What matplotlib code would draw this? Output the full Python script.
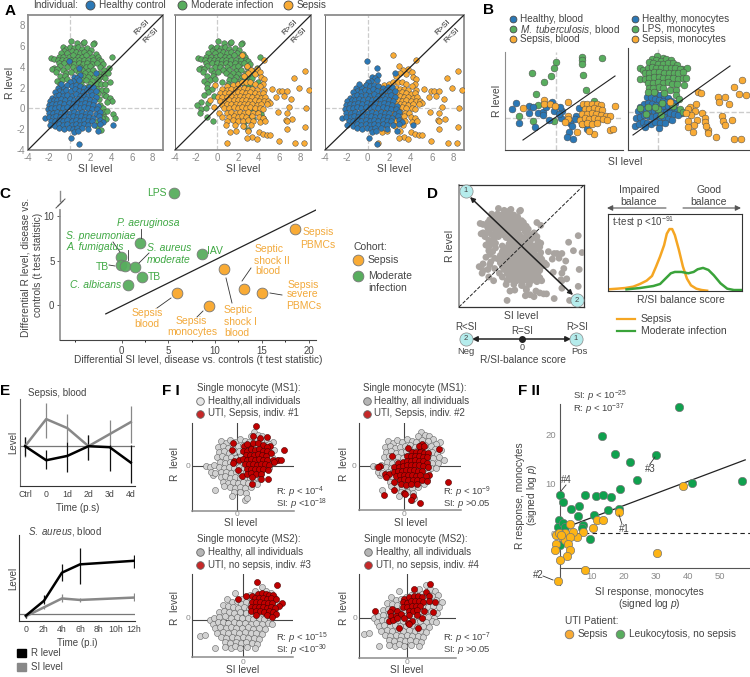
import numpy as np
import matplotlib
matplotlib.use("Agg")
import matplotlib.pyplot as plt

plt.rcParams['font.family'] = ['Liberation Sans', 'DejaVu Sans']
plt.rcParams['mathtext.fontset'] = 'custom'
plt.rcParams['mathtext.rm'] = 'Liberation Sans'
plt.rcParams['mathtext.it'] = 'Liberation Sans:italic'
plt.rcParams['mathtext.default'] = 'regular'

W, H = 750, 677
BLUE = '#2b78b6'
GREEN = '#58ad5e'
ORANGE = '#f9ab35'
TXT = '#444444'
TICK = '#8a8a8a'
SPINE = '#8c8c8c'
EDGE = '#4a4a4a'

# ---------------- data, panel A (also the cloud of panel D) ---------------- #
healthy = [(-0.1,4.6),(0.9,3.9),(2.5,3.4),(1.0,3.2),(0.4,3.0),(0.7,2.9),(0.3,2.6),(0.9,2.7),(0.0,2.5),
 (-0.6,2.1),(-0.2,2.3),(0.2,2.2),(0.6,2.3),(1.0,2.2),(1.4,2.0),(1.9,2.1),(2.3,2.1),(-1.1,2.0),(-0.8,2.4),
 (-1.0,1.7),(-0.6,1.6),(-0.3,1.8),(0.1,1.7),(0.5,1.9),(0.9,1.7),(1.3,1.6),(1.7,1.8),(2.1,1.6),(2.5,1.7),(-1.4,1.6),
 (-1.7,1.0),(-1.3,1.2),(-1.0,1.3),(-0.6,1.2),(-0.2,1.3),(0.2,1.2),(0.6,1.4),(1.0,1.2),(1.4,1.3),(1.8,1.2),(2.2,1.3),(2.5,1.1),
 (-1.9,0.7),(-1.5,0.8),(-1.2,0.8),(-0.8,0.9),(-0.4,0.8),(0.0,0.9),(0.4,0.8),(0.8,0.9),(1.2,0.8),(1.6,0.9),(2.0,0.8),(2.4,0.7),
 (-2.0,0.3),(-1.7,0.4),(-1.3,0.4),(-0.9,0.5),(-0.5,0.4),(-0.1,0.5),(0.3,0.4),(0.7,0.5),(1.1,0.4),(1.5,0.5),(1.9,0.4),(2.3,0.3),(2.7,0.2),
 (-2.1,-0.1),(-1.8,0.0),(-1.4,0.0),(-1.0,0.1),(-0.6,0.0),(-0.2,0.1),(0.2,0.0),(0.6,0.1),(1.0,0.0),(1.4,0.1),(1.8,0.0),(2.2,-0.1),(2.6,-0.1),
 (-2.0,-0.4),(-1.6,-0.4),(-1.2,-0.3),(-0.8,-0.4),(-0.4,-0.3),(0.0,-0.4),(0.4,-0.3),(0.8,-0.4),(1.2,-0.3),(1.6,-0.4),(2.0,-0.4),(2.5,-0.5),(2.9,-0.3),
 (-2.4,-0.9),(-2.0,-0.8),(-1.6,-0.8),(-1.3,-0.7),(-0.9,-0.8),(-0.5,-0.7),(-0.1,-0.8),(0.3,-0.7),(0.7,-0.8),(1.1,-0.7),(1.5,-0.8),(1.9,-0.8),(2.3,-0.9),(2.8,-0.7),
 (-1.8,-1.2),(-1.4,-1.2),(-1.0,-1.1),(-0.6,-1.2),(-0.2,-1.1),(0.2,-1.2),(0.6,-1.1),(1.0,-1.2),(1.4,-1.1),(1.8,-1.2),(2.2,-1.2),(2.9,-1.1),(3.2,-1.3),
 (-1.9,-1.6),(-1.4,-1.7),(-1.0,-1.5),(-0.6,-1.6),(-0.2,-1.5),(0.2,-1.6),(0.6,-1.5),(1.0,-1.6),(1.4,-1.5),(1.8,-1.6),(2.4,-1.6),(2.9,-1.5),(4.2,-1.6),
 (-1.0,-1.9),(-0.5,-2.0),(-0.1,-1.9),(0.3,-2.0),(0.7,-1.9),(1.2,-1.9),(1.8,-2.0),(2.7,-2.2),(0.4,-2.3),(0.8,-2.2),(0.1,-2.8),(0.9,-3.4)]

moderate = [(0.1,6.5),(0.7,6.3),(1.3,6.3),(1.4,6.4),(2.4,6.3),(2.3,6.2),
 (-0.6,5.9),(-0.3,5.7),(0.0,5.9),(0.4,5.8),(0.8,5.9),(1.2,5.7),(1.7,5.8),(2.1,5.6),(-0.5,5.5),(0.2,5.5),(0.6,5.4),
 (-0.8,5.3),(-0.2,5.3),(1.0,5.3),(1.4,5.4),(1.9,5.3),(2.5,5.2),(-1.0,5.0),(-0.6,5.0),(-0.1,5.0),(0.3,5.1),(0.8,5.0),(1.2,5.0),(1.6,5.1),(2.2,5.0),(2.7,5.0),(4.1,5.0),
 (-1.8,4.9),(-1.5,4.8),(-1.1,4.7),(-0.7,4.7),(-0.3,4.7),(0.1,4.7),(0.5,4.7),(0.9,4.7),(1.4,4.7),(1.8,4.7),(2.3,4.7),(2.8,4.7),(3.0,4.6),
 (-1.0,4.4),(-0.5,4.4),(0.0,4.4),(0.4,4.3),(0.9,4.4),(1.3,4.3),(1.7,4.4),(2.2,4.3),(2.6,4.4),(3.2,4.3),(-0.9,4.1),(-0.2,4.0),(0.3,4.0),(1.0,4.0),(1.6,4.0),(2.0,4.1),(2.9,4.0),
 (-1.5,3.9),(-1.7,3.8),(-1.2,3.8),(-0.6,3.7),(0.6,3.7),(1.2,3.7),(1.8,3.6),(2.3,3.7),(3.3,3.7),(3.8,3.9),(-1.3,3.5),(-0.3,3.4),(0.1,3.5),(0.9,3.4),(1.5,3.4),(2.0,3.3),(2.8,3.4),(3.3,3.3),(3.7,3.4),
 (-0.9,3.1),(-0.4,3.1),(1.3,3.1),(1.8,3.0),(2.4,3.0),(2.9,3.0),(3.4,2.9),(-0.7,2.7),(-0.2,2.8),(1.2,2.7),(1.6,2.7),(2.2,2.6),(2.7,2.7),
 (-1.2,2.6),(-0.9,2.4),(0.5,2.5),(1.1,2.4),(2.0,2.4),(2.6,2.4),(3.0,2.4),(3.4,2.4),(3.9,2.5),(-0.9,2.0),(-0.5,1.9),(1.0,2.0),(1.7,2.1),(2.6,1.9),(3.1,1.8),(3.5,1.8),
 (-0.8,1.6),(2.7,1.5),(3.3,1.3),(-1.2,1.3),(-0.3,1.2),(3.5,1.2),(3.9,1.0),(2.8,0.9),(4.1,0.7),(3.6,0.6),(-1.5,0.6),(-1.9,0.3),(-0.8,0.5),(2.9,0.3),(3.2,0.0),(-1.5,-0.1),
 (-1.0,0.0),(-1.6,-0.4),(3.3,-0.3),(3.6,-0.2),(4.2,-0.5),(4.4,-0.9),(3.3,-0.8),(3.5,-1.0),(-0.9,-0.8),(-0.4,-1.2),(2.7,-1.2),(3.1,-0.9),(2.6,-1.7),(3.0,-2.1)]

sepsis = [(2.4,5.1),(4.5,4.7),(2.9,4.1),(3.8,3.8),(3.3,3.7),(3.6,3.3),(4.1,3.5),(3.0,3.4),(2.6,3.1),(4.2,3.0),(4.5,2.8),(8.4,3.6),(7.4,2.9),
 (-0.2,2.3),(1.0,2.2),(1.5,2.3),(2.0,2.4),(2.4,2.5),(2.8,2.5),(3.2,2.5),(3.6,2.4),(4.4,2.4),(4.1,2.2),
 (0.5,1.9),(1.0,1.8),(1.4,1.9),(1.8,1.9),(2.2,1.9),(2.6,2.0),(3.0,1.9),(3.4,1.9),(3.8,1.8),(4.5,1.8),(5.3,1.9),(5.9,1.7),(6.2,1.7),(6.7,1.7),(7.9,2.0),(8.8,1.8),
 (0.3,1.5),(0.8,1.5),(1.2,1.5),(1.6,1.5),(2.0,1.6),(2.4,1.6),(2.8,1.5),(3.2,1.6),(3.6,1.5),(4.0,1.4),(4.4,1.5),(6.4,1.2),(5.7,1.1),
 (0.1,1.1),(0.5,1.1),(1.0,1.1),(1.4,1.2),(1.8,1.1),(2.2,1.2),(2.6,1.1),(3.0,1.2),(3.4,1.1),(3.8,1.1),(4.2,1.0),(4.6,1.1),(7.1,0.9),
 (-0.7,0.8),(0.3,0.7),(0.8,0.7),(1.2,0.8),(1.6,0.8),(2.0,0.8),(2.4,0.8),(2.8,0.8),(3.2,0.7),(3.6,0.8),(4.0,0.7),(4.5,0.7),(4.9,0.7),(5.1,0.5),
 (0.5,0.3),(1.0,0.4),(1.4,0.4),(1.8,0.4),(2.2,0.4),(2.6,0.4),(3.0,0.4),(3.4,0.4),(3.8,0.3),(4.2,0.4),(4.8,0.4),(-0.3,0.1),
 (0.7,0.0),(1.2,0.0),(1.6,0.1),(2.0,0.0),(2.4,0.1),(2.8,0.0),(3.2,0.1),(3.6,0.0),(4.1,0.0),(4.4,-0.1),(6.9,0.1),(8.5,0.0),
 (0.2,-0.4),(1.0,-0.4),(1.4,-0.3),(1.8,-0.4),(2.2,-0.3),(2.6,-0.4),(3.0,-0.3),(3.5,-0.4),(3.9,-0.4),(5.8,-0.3),(6.7,-0.4),
 (0.5,-0.8),(1.2,-0.8),(1.6,-0.7),(2.0,-0.8),(2.4,-0.7),(2.8,-0.8),(3.4,-0.7),(4.0,-0.8),(4.4,-0.9),(7.2,-1.0),(6.6,-1.1),(6.7,-1.2),
 (1.0,-1.2),(1.5,-1.1),(2.0,-1.2),(2.5,-1.2),(3.0,-1.1),(3.5,-1.2),(4.1,-1.3),(4.6,-1.2),(0.9,-1.6),(1.7,-1.6),(2.5,-1.7),(3.3,-1.6),(6.7,-2.0),(8.4,-1.8),
 (1.3,-2.3),(1.8,-2.2),(3.0,-2.2),(4.0,-2.3),(4.4,-2.5),(3.4,-2.7),(4.8,-2.6),(5.1,-2.6),(2.9,-2.8),(3.8,-2.9),(1.0,-3.3),(5.9,-3.1),(7.5,-3.3),(8.3,-3.3)]

# ---------------- data, panel B ---------------- #
blood_healthy = [(-4.0,1.5),(-4.4,0.9),(-3.7,-0.5),(-2.7,1.2),(-2.3,1.1),(-2.7,0.5),(-1.8,0.5),(-1.3,0.6),(-1.3,0.3),(-0.4,1.6),(-0.2,0.7),(0.6,0.7),(0.4,1.1),(-0.7,-0.2),(-2.1,-0.9),(2.3,1.0),(2.0,0.2),(1.9,-0.1),(1.4,-0.5),(1.6,-0.8),(2.6,-0.6),(3.1,-1.1),(1.3,-1.4),(1.1,-1.9),(1.7,-2.1),(0.5,0.0),(-1.0,1.1),(0.3,0.4)]
blood_mtb = [(0.0,5.6),(-0.2,5.0),(-2.4,4.5),(-0.5,4.2),(-1.2,3.6),(2.6,6.1),(2.6,5.8),(2.6,5.4),(4.6,6.0),(2.7,4.3),(3.0,2.8),(-2.0,2.4),(3.8,1.7),(-3.7,0.2),(-2.3,-0.3),(-1.8,1.3),(-0.2,-0.3)]
blood_sepsis = [(-3.3,1.0),(-1.2,1.8),(-1.2,1.4),(-0.6,1.4),(-0.1,1.2),(1.2,1.6),(1.2,0.2),(1.2,-0.1),(0.9,-0.4),(5.9,1.2),(5.4,-1.2),(5.7,-1.1),(2.1,-1.4),(3.8,-1.6),(3.3,-1.3),
 (2.7,1.4),(3.1,1.4),(3.6,1.4),(4.1,1.4),(4.5,1.3),(2.9,0.9),(3.3,0.9),(3.8,1.0),(4.2,0.9),(4.6,0.8),(2.6,0.4),(3.1,0.4),(3.6,0.5),(4.0,0.4),(4.5,0.3),(5.0,0.2),(5.4,0.2),
 (2.4,-0.2),(2.9,0.0),(3.3,-0.1),(3.8,0.0),(4.2,-0.1),(4.7,-0.1),(5.1,-0.2),(2.6,-0.6),(3.1,-0.5),(3.6,-0.6),(4.1,-0.5)]
mono_healthy = [(-0.7,2.2),(-0.3,1.9),(0.2,1.7),(0.6,1.6),(1.0,1.4),(-1.1,1.5),(-0.7,1.5),(-0.3,1.3),(0.1,1.2),(0.5,1.1),(0.9,1.0),(1.3,1.1),(1.7,0.9),(-1.8,0.5),(-1.4,0.8),(-1.0,0.9),(-0.6,0.8),(-0.2,0.7),(0.2,0.6),(0.6,0.5),(1.0,0.6),(1.4,0.4),(1.9,0.2),(2.4,-0.1),
 (-2.0,0.1),(-1.6,0.2),(-1.2,0.3),(-0.8,0.2),(-0.4,0.1),(0.0,0.1),(0.4,0.0),(0.8,0.0),(1.2,-0.1),(1.6,-0.2),(2.0,-0.3),(-2.2,-0.6),(-1.8,-0.5),(-1.4,-0.3),(-1.0,-0.4),(-0.6,-0.5),(-0.2,-0.4),(0.2,-0.5),(0.6,-0.5),(1.0,-0.7),(1.4,-0.8),(-2.3,-1.4),(-1.9,-1.2),(-1.5,-1.0),(-1.1,-1.1),(-0.7,-1.2),(-0.3,-1.0),(0.2,-1.1),(0.7,-1.1),(-1.3,-1.5),(0.1,-1.6)]
mono_lps = [(-0.1,5.6),(0.5,5.4),(-0.6,5.3),(-0.2,5.2),(0.3,5.1),(0.8,5.3),(1.3,5.2),(-0.9,5.0),(-0.5,4.9),(0.0,4.8),(0.5,4.8),(1.0,4.9),(1.5,4.9),(1.9,4.7),(2.4,4.3),
 (-1.8,4.4),(-1.5,4.2),(-1.0,4.4),(-0.6,4.5),(-0.2,4.4),(0.3,4.4),(0.8,4.4),(1.3,4.4),(1.7,4.4),(2.2,4.3),(2.9,4.4),(-1.3,3.9),(-0.9,3.9),(-0.4,4.0),(0.1,4.0),(0.6,3.9),(1.1,3.9),(1.6,3.9),(2.0,3.9),(2.5,4.0),
 (-1.8,3.3),(-1.3,3.3),(-0.9,3.4),(-0.4,3.5),(0.1,3.5),(0.5,3.4),(1.0,3.4),(1.5,3.4),(2.0,3.3),(2.5,3.4),(2.8,3.4),(-1.0,2.9),(-0.5,2.9),(0.0,3.0),(0.5,2.9),(1.0,3.0),(1.4,2.8),(1.9,2.8),(2.6,2.7),
 (-0.9,2.4),(-0.5,2.4),(0.1,2.5),(0.5,2.4),(1.2,2.2),(1.8,2.2),(-1.0,2.0),(-0.4,2.0),(0.6,1.9),(1.8,1.7),(2.1,1.3),(-1.8,0.4),(-1.0,0.5),(0.4,0.9),(1.5,0.6),(0.0,0.3),(2.2,0.3),(-1.2,-0.2),(0.3,-0.3),(2.5,0.0),(-0.3,0.5)]
mono_sepsis = [(8.4,3.2),(7.6,2.5),(8.1,1.8),(8.8,1.7),(6.0,1.5),(6.7,1.5),(6.1,1.0),(7.1,0.8),(4.0,2.0),(4.3,1.9),(3.8,0.8),(3.2,0.5),(3.7,0.1),(4.4,-0.1),(1.2,1.0),(3.3,-0.3),(3.0,0.3),(2.8,-0.1),
 (6.4,-0.4),(4.7,-0.6),(3.9,-0.8),(3.0,-0.9),(4.7,-1.0),(6.5,-0.9),(7.4,-0.8),(6.7,-1.3),(5.0,-1.8),(3.6,-1.3),(3.0,-1.5),(3.5,-2.0),(5.0,-2.1),(5.8,-2.5),(7.6,-2.7),(8.3,-2.7),(4.8,-1.4)]

# ---------------- data, panel C ---------------- #
c_green_x = [5.6, 2.0, -0.1, -0.1, 0.4, 1.4, 2.2, 0.7, 8.6]
c_green_y = [12.6, 7.0, 5.4, 4.5, 4.4, 4.3, 3.2, 2.3, 5.8]
c_orange_x = [18.5, 10.9, 13.1, 15.0, 5.9, 9.3]
c_orange_y = [8.5, 4.1, 1.8, 1.4, 1.4, -0.1]

# ---------------- data, panel D densities ---------------- #
kde_sepsis_x = [0, 7, 13, 19, 24, 29, 33, 36, 39, 42, 44, 46, 48, 50, 53, 56, 59, 62, 66, 70, 74]
kde_sepsis_y = [2, 3, 4, 6, 10, 15, 22, 36, 51, 68, 85, 92, 92, 83, 61, 36, 18, 8, 3, 1, 0]
kde_mod_x = [14, 24, 34, 39, 43, 47, 50, 55, 60, 64, 67, 71, 75, 79, 84, 89, 94, 100]
kde_mod_y = [2, 4, 7, 10, 18, 26, 28, 28, 26, 28, 32, 34, 31, 23, 11, 3, 1, 1]

# ---------------- data, panel E ---------------- #
e1_time = ['Ctrl', '0', '1d', '2d', '3d', '4d']
e1_x = [0, 1, 2, 3, 4, 5]
e1_r = [0.0, -4.2, -2.9, 0.0, -0.3, -4.9]
e1_r_lo = [-3.0, -6.9, -7.6, -4.1, -7.3, -11.0]
e1_r_hi = [2.7, -1.1, 1.4, 3.4, 0.5, 0.4]
e1_si = [0.0, 8.1, 5.4, 0.0, 3.6, 7.2]
e1_si_lo = [-3.1, 2.4, 1.4, -4.1, -0.2, 1.1]
e1_si_hi = [2.7, 12.9, 9.7, 3.4, 7.9, 11.9]
e2_ticks = [0, 2, 4, 6, 8, 10, 12]
e2_labels = ['0', '2h', '4h', '6h', '8h', '10h', '12h']
e2_x = [0, 2, 4, 6, 12]
e2_r = [-0.4, 4.6, 14.1, 16.9, 18.1]
e2_r_lo = [-1.2, 3.4, 11.2, 10.2, 15.6]
e2_r_hi = [0.2, 6.4, 16.9, 22.4, 20.0]
e2_si = [-0.6, 2.4, 5.4, 4.9, 5.7]
e2_si_lo = [-1.2, 2.0, 4.1, 4.1, 4.4]
e2_si_hi = [0.2, 2.8, 6.9, 5.7, 7.1]

# ---------------- data, panel F I ---------------- #
ms1_healthy = [(1.7,3.4),(2.1,3.1),(1.4,3.0),(2.5,3.0),(2.9,2.7),(3.6,2.4),(3.2,2.2),(-1.6,2.5),(-1.1,2.3),(-0.7,2.6),(-0.2,2.4),(0.3,2.7),(0.8,2.5),(1.2,2.4),(1.8,2.6),(2.4,2.5),
 (-1.9,1.9),(-1.4,2.0),(-0.9,1.8),(-0.4,1.9),(0.1,2.0),(0.6,2.1),(1.1,1.9),(1.6,2.0),(2.1,2.1),(2.7,2.0),(3.1,1.7),(3.7,1.6),(-1.8,1.4),(-1.3,1.5),(-0.8,1.3),(-0.3,1.4),(0.2,1.5),(0.7,1.4),(1.2,1.5),(1.7,1.3),(2.2,1.5),(2.8,1.4),(3.3,1.2),
 (-2.0,0.9),(-1.5,1.0),(-1.1,0.8),(-0.6,0.9),(-0.1,0.8),(0.4,1.0),(0.9,0.9),(1.4,0.8),(1.9,1.0),(2.4,0.9),(2.9,0.8),(3.5,0.9),(4.0,0.6),(-1.7,0.4),(-1.2,0.3),(-0.7,0.4),(-0.2,0.3),(0.3,0.4),(0.8,0.3),(1.3,0.4),(1.8,0.3),(2.3,0.4),(2.8,0.3),(3.4,0.3),
 (-3.1,0.0),(-2.7,-0.1),(-2.3,0.1),(-1.8,-0.1),(-1.3,-0.2),(-0.8,-0.1),(-0.3,-0.2),(0.2,-0.1),(0.7,-0.2),(1.2,-0.1),(1.7,-0.2),(2.2,-0.1),(2.7,-0.2),(3.2,-0.2),(-2.4,-0.9),(-2.6,-0.6),(-2.2,-0.7),(-1.6,-0.6),(-1.1,-0.6),(-0.6,-0.7),(-0.1,-0.6),(0.4,-0.7),(0.9,-0.6),(1.4,-0.7),(1.9,-0.6),(2.4,-0.7),
 (-1.6,-1.1),(-1.2,-1.0),(-0.7,-1.2),(-0.2,-1.1),(0.3,-1.2),(0.8,-1.1),(1.3,-1.2),(1.8,-1.1),(2.3,-1.3),(-1.4,-1.6),(-0.9,-1.7),(-0.4,-1.6),(0.1,-1.7),(0.6,-1.6),(1.1,-1.7),(1.6,-1.6),(2.0,-1.8),
 (-1.3,-2.0),(-2.2,-2.4),(-0.7,-2.1),(-0.2,-2.2),(0.3,-2.1),(0.8,-2.2),(1.4,-2.1),(-0.3,-2.6),(0.3,-2.6),(0.9,-2.7),(-0.5,-3.0),(0.8,-3.4),(1.0,-3.2)]
ms2_healthy = [(-0.8,2.7),(0.7,2.5),(1.2,2.9),(1.9,3.3),(2.3,2.9),(2.8,2.7),(-0.1,2.1),(0.4,2.3),(0.9,2.1),(1.5,2.4),(2.0,2.4),(2.5,2.2),(3.1,2.3),(-1.6,2.1),(-1.1,1.8),(-0.6,1.9),(-0.2,1.6),(0.3,1.8),(0.8,1.6),(1.3,1.9),(1.8,1.7),(2.3,1.7),(2.9,1.8),(3.5,1.6),
 (-2.0,1.5),(-1.5,1.4),(-1.0,1.3),(-0.5,1.2),(0.1,1.3),(0.6,1.1),(1.1,1.2),(1.6,1.3),(2.1,1.1),(2.6,1.2),(3.2,1.1),(-2.4,0.8),(-1.9,0.9),(-1.4,0.8),(-0.9,0.7),(-0.3,0.8),(0.3,0.7),(0.8,0.6),(1.3,0.7),(1.8,0.6),(2.4,0.7),(3.0,0.5),
 (-3.3,0.0),(-2.9,0.2),(-2.4,0.3),(-1.8,0.4),(-1.2,0.2),(-0.6,0.3),(-0.1,0.2),(0.5,0.2),(1.0,0.1),(1.6,0.2),(2.1,0.1),(2.7,0.0),(-3.0,-0.4),(-2.5,-0.2),(-2.0,-0.2),(-1.5,-0.3),(-0.9,-0.2),(-0.4,-0.3),(0.2,-0.3),(0.8,-0.4),(1.3,-0.3),(1.9,-0.4),(2.5,-0.3),(2.9,-0.4),
 (-2.8,-0.8),(-2.3,-0.7),(-1.7,-0.8),(-1.2,-0.7),(-0.7,-0.8),(-0.1,-0.8),(0.5,-0.7),(1.0,-0.9),(1.6,-0.8),(2.2,-0.9),(-2.6,-1.3),(-2.0,-1.2),(-1.5,-1.3),(-0.9,-1.2),(-0.4,-1.3),(0.2,-1.2),(0.8,-1.3),(1.3,-1.3),(1.9,-1.4),
 (-4.3,-1.6),(-3.8,-1.5),(-2.2,-1.7),(-1.7,-1.8),(-1.1,-1.7),(-0.6,-1.8),(0.0,-1.7),(0.5,-1.8),(1.1,-1.8),(1.6,-1.9),(-1.8,-2.2),(-1.3,-2.3),(-0.7,-2.2),(-0.2,-2.3),(0.3,-2.2),(0.9,-2.3),(1.4,-2.4),
 (-1.8,-2.7),(-2.8,-2.8),(-1.2,-2.8),(-0.8,-2.6),(-0.3,-2.8),(0.4,-2.7),(1.2,-2.8)]
uti_1 = [(1.9,4.0),(1.6,3.0),(3.0,2.9),(2.3,2.8),(-0.4,2.3),(1.3,2.0),(3.3,2.0),(4.7,1.6),(-0.5,1.6),(0.7,2.0),(1.0,2.2),(1.6,2.3),(2.1,2.3),(2.6,2.1),(3.0,1.9),
 (0.6,1.5),(1.0,1.5),(1.4,1.7),(1.8,1.6),(2.2,1.7),(2.6,1.5),(3.0,1.5),(3.4,1.3),(0.9,1.1),(1.3,1.1),(1.7,1.1),(2.1,1.2),(2.5,1.1),(2.9,1.0),
 (-0.3,0.5),(0.2,0.6),(0.6,0.7),(1.0,0.6),(1.4,0.7),(1.8,0.6),(2.2,0.7),(2.6,0.6),(3.0,0.6),(3.6,0.6),(4.1,0.6),(4.4,0.6),(-0.4,0.3),(0.8,0.2),(1.2,0.2),(1.6,0.2),(2.0,0.1),(2.4,0.2),(2.8,0.2),(3.2,0.1),(3.7,0.4),
 (0.1,-0.4),(1.0,-0.3),(1.4,-0.3),(1.8,-0.3),(2.2,-0.3),(2.6,-0.3),(3.1,-0.4),(0.5,-1.0),(1.0,-0.8),(1.4,-0.7),(1.9,-0.8),(2.4,-0.8),(3.1,-1.3),(1.5,-1.1),(2.4,-1.3),(1.5,-1.8)]
uti_2 = [(1.7,1.7),(3.5,1.7),(1.8,2.2),(1.5,2.0),(2.0,2.0),(0.4,1.8),(-1.2,1.0),(0.8,1.4),(1.2,1.4),(1.6,1.4),(2.0,1.3),(2.4,1.3),(0.3,1.0),(0.7,1.0),(1.1,1.0),(1.5,1.0),(1.9,0.9),(2.3,0.9),
 (-2.4,0.0),(-2.6,-0.1),(-0.6,0.3),(-0.1,0.4),(0.3,0.5),(0.7,0.5),(1.1,0.6),(1.5,0.5),(1.9,0.5),(2.3,0.3),(-1.0,-0.1),(-0.5,-0.1),(-0.1,0.0),(0.3,0.1),(0.7,0.1),(1.1,0.1),(1.5,0.1),(1.9,0.0),(2.4,-0.1),
 (-1.9,-0.8),(-1.5,-0.8),(-1.0,-0.6),(-0.6,-0.5),(-0.2,-0.5),(0.2,-0.4),(0.6,-0.4),(1.0,-0.4),(1.4,-0.5),(1.8,-0.5),(2.5,-0.9),(-1.8,-1.1),(-0.8,-1.0),(-0.4,-0.9),(0.0,-0.9),(0.4,-0.9),(0.8,-0.9),(1.2,-1.0),(1.6,-0.9),(2.2,-1.0),
 (-0.4,-1.4),(0.0,-1.3),(0.4,-1.4),(0.9,-1.4),(1.3,-1.4),(1.8,-1.4),(-1.0,-1.6),(-0.3,-1.8),(0.2,-1.9),(0.7,-1.8),(1.3,-1.8),(2.3,-1.5),(-1.0,-2.4),(0.0,-2.7),(0.1,-2.8),(0.9,-3.0),(0.7,-3.4),(1.6,-3.7),(-2.0,-2.9),(4.4,-1.6)]
uti_3 = [(1.4,3.8),(3.4,3.5),(1.5,2.6),(1.9,2.7),(2.3,2.6),(2.6,2.5),(3.0,2.5),(0.3,2.4),(0.9,2.4),(-0.5,2.1),(1.2,2.2),(1.6,2.2),(2.0,2.2),(2.4,2.1),(2.8,2.2),(3.3,2.1),(3.9,1.7),(3.6,1.4),
 (0.9,1.8),(1.3,1.8),(1.7,1.8),(2.1,1.7),(2.5,1.7),(2.9,1.7),(0.8,1.3),(1.2,1.3),(1.6,1.3),(2.0,1.3),(2.4,1.2),(2.8,1.3),(3.2,1.2),(0.8,0.9),(1.3,0.9),(1.7,0.9),(2.1,0.8),(2.6,0.9),(3.0,0.8),(3.3,0.6),(1.3,0.5),(2.4,0.5),(2.9,0.3)]
uti_4 = [(2.3,3.4),(1.9,2.6),(0.7,2.9),(-0.3,1.9),(0.2,2.1),(0.7,2.2),(1.1,2.2),(1.5,2.1),(2.2,2.2),(-0.4,1.6),(0.0,1.5),(0.4,1.7),(0.8,1.7),(1.2,1.7),(1.6,1.6),(2.2,1.7),(2.8,1.6),
 (-0.4,1.1),(0.0,1.1),(0.5,1.2),(0.9,1.2),(1.3,1.2),(-1.5,0.9),(-1.7,0.6),(-3.2,0.7),(-1.0,0.7),(0.2,0.7),(0.6,0.7),(1.0,0.8),(1.7,0.7),(2.6,0.6),(-1.6,0.2),(-1.1,0.2),(-0.6,0.4),(0.2,0.3),(1.0,0.3),
 (-1.8,-0.3),(-1.4,-0.2),(-1.0,0.0),(-0.3,0.0),(0.5,-0.3),(0.1,-0.5),(1.5,0.0),(-0.8,-1.0),(0.2,-0.6),(1.1,-1.0)]

# ---------------- data, panel F II ---------------- #
uti_green = [(37.3,25.5),(13.1,19.7),(17.2,16.0),(21.9,14.3),(30.2,15.8),(24.3,10.8),(41.5,10.1),(57.0,10.6),(18.9,9.0),(0.2,7.7),(1.0,6.2),(7.9,7.8),(11.3,7.5),(13.4,7.7),(15.9,7.3),(3.6,4.9),(5.9,5.5),(5.6,3.5),(10.7,3.6),(15.2,4.6),(18.6,4.9),(-0.2,2.7),(7.1,1.7),(6.9,1.0),(9.5,-1.1),(-0.7,1.3),(1.1,2.0),(1.7,1.3),(0.1,-2.4)]
uti_orange = [(38.5,9.5),(18.4,4.2),(11.7,2.6),(13.4,2.7),(10.3,1.1),(30.4,-4.1),(8.0,-7.4),(-0.7,-9.6),(7.4,0.2),(5.5,-0.7),(4.1,0.3),(3.2,1.8),(1.5,0.1),(-1.3,-0.3),(-0.4,0.0),(0.6,-0.7),(1.7,-1.3),(3.2,-0.7),(2.7,-2.2),(-1.1,-2.2),(-1.4,-3.4),(3.3,-3.4),(2.1,-4.6),(0.1,-5.5),(0.4,-0.3)]
fit_x = [0, 58]
fit_y = [0.7, 14.8]

fig = plt.figure(figsize=(W/100, H/100), dpi=100)

def axpx(l, t, r, b):
	return fig.add_axes([l/W, 1-b/H, (r-l)/W, (b-t)/H])

# overlay in pixels for the labels and leader lines
ov = fig.add_axes([0, 0, 1, 1], zorder=20)
ov.set_xlim(0, W)
ov.set_ylim(H, 0)
ov.axis('off')
ov.patch.set_alpha(0)

def label(x, y, s, size=7, color=TXT, ha='center', va='center', **kw):
	ov.text(x, y, s, fontsize=size, color=color, ha=ha, va=va, **kw)

def lead(x0, y0, x1, y1, color='#333333', lw=0.6, **kw):
	ov.plot([x0, x1], [y0, y1], color=color, lw=lw, **kw)

def dot(x, y, color, s=36, edge=EDGE):
	ov.scatter([x], [y], s=s, color=color, edgecolor=edge, linewidth=0.6)

def scat(ax, pts, color, s=12, edge=EDGE, lw=0.35, z=3):
	p = np.array(pts)
	ax.scatter(p[:, 0], p[:, 1], s=s, color=color, edgecolor=edge, linewidth=lw, zorder=z, clip_on=True)

# ---------- A ---------- #
label(5, 11, 'A', size=11, color='black', fontweight='bold', ha='left')
label(33, 5, 'Individual:', ha='left', size=7.2)
dot(90, 5, BLUE, s=42)
label(99, 5, 'Healthy control', ha='left', size=7.2)
dot(182, 5, GREEN, s=42)
label(191, 5, 'Moderate infection', ha='left', size=7.2)
dot(288, 5, ORANGE, s=42)
label(297, 5, 'Sepsis', ha='left', size=7.2)

a_boxes = [(28, 15, 163, 150), (175, 15, 311, 150), (325, 15, 464, 150)]
a_layers = [[(moderate, GREEN), (healthy, BLUE)],
	[(moderate, GREEN), (sepsis, ORANGE)],
	[(sepsis, ORANGE), (healthy, BLUE)]]
for i in range(3):
	ax = axpx(*a_boxes[i])
	ax.set_xlim(-4, 9)
	ax.set_ylim(-4, 9)
	ax.axhline(0, color='#cccccc', lw=0.9, ls='--', zorder=1)
	ax.axvline(0, color='#cccccc', lw=0.9, ls='--', zorder=1)
	for pts, col in a_layers[i]:
		scat(ax, pts, col, s=16)
	ax.plot([-4, 9], [-4, 9], color='#222222', lw=0.9, zorder=4)
	ax.set_xticks([-4, -2, 0, 2, 4, 6, 8])
	ax.set_xticklabels(['-4', '-2', '0', '2', '4', '6', '8'])
	if i == 0:
		ax.set_yticks([-4, -2, 0, 2, 4, 6, 8])
		ax.set_yticklabels(['-4', '-2', '0', '2', '4', '6', '8'])
		ax.set_ylabel('R level', fontsize=7.5, color=TXT, labelpad=1)
	else:
		ax.set_yticks([])
	ax.tick_params(length=0, labelsize=7, colors=TICK, pad=2)
	ax.set_xlabel('SI level', fontsize=7.5, color=TXT, labelpad=1)
	for s in ax.spines.values():
		s.set_color(SPINE)
		s.set_linewidth(1.3)
	if i > 0:
		ax.spines['left'].set_color('#555555')
		ax.spines['left'].set_linewidth(0.6)
	ax.text(7.0, 7.85, 'R>SI', rotation=45, fontsize=6, color='#222222', ha='center', va='center', zorder=5)
	ax.text(7.85, 7.0, 'R<SI', rotation=45, fontsize=6, color='#222222', ha='center', va='center', zorder=5)

# ---------- B ---------- #
label(488, 10, 'B', size=11, color='black', fontweight='bold', ha='center')
b1_names = ['Healthy, blood', '$\\mathit{M.\\ tuberculosis}$, blood', 'Sepsis, blood']
b2_names = ['Healthy, monocytes', 'LPS, monocytes', 'Sepsis, monocytes']
b_cols = [BLUE, GREEN, ORANGE]
for i in range(3):
	dot(513, 19+10*i, b_cols[i], s=24)
	label(520.5, 19+10*i, b1_names[i], ha='left', size=7.2)
	dot(635, 19+10*i, b_cols[i], s=24)
	label(642, 19+10*i, b2_names[i], ha='left', size=7.2)

ax = axpx(505, 52, 623, 150)
ax.set_xlim(-5.1, 6.7)
ax.set_ylim(-3.2, 6.6)
ax.axhline(0, color='#cccccc', lw=1.0, ls='--', zorder=1)
ax.axvline(0, color='#cccccc', lw=1.0, ls='--', zorder=1)
scat(ax, blood_mtb, GREEN, s=24, z=3)
scat(ax, blood_healthy, BLUE, s=24, z=4)
scat(ax, blood_sepsis, ORANGE, s=24, z=5)
ax.plot([-3.3, 5.9], [-2.2, 4.2], color='#222222', lw=0.8, zorder=6)
ax.set_xticks([])
ax.set_yticks([])
ax.spines['top'].set_visible(False)
ax.spines['right'].set_visible(False)
ax.spines['left'].set_color(SPINE)
ax.spines['bottom'].set_color('#444444')
ax.set_ylabel('R level', fontsize=7.5, color=TXT, labelpad=2)

ax = axpx(628, 48, 750, 150)
ax.set_xlim(-3.0, 9.2)
ax.set_ylim(-3.8, 6.4)
ax.axhline(0, color='#cccccc', lw=1.0, ls='--', zorder=1)
ax.axvline(0, color='#cccccc', lw=1.0, ls='--', zorder=1)
scat(ax, mono_healthy, BLUE, s=24, z=3)
scat(ax, mono_lps, GREEN, s=24, z=4)
scat(ax, mono_sepsis, ORANGE, s=24, z=5)
ax.plot([-2.5, 7.2], [-2.3, 4.6], color='#222222', lw=0.8, zorder=6)
ax.set_xticks([])
ax.set_yticks([])
ax.spines['top'].set_visible(False)
ax.spines['right'].set_visible(False)
ax.spines['left'].set_color('#444444')
ax.spines['bottom'].set_color('#444444')
label(625, 162, 'SI level', size=7.5)

# ---------- C ---------- #
label(5, 194, 'C', size=11, color='black', fontweight='bold', ha='center')
ax = axpx(60, 184, 316, 340)
ax.set_xlim(-6.6, 20.8)
ax.set_ylim(-3.9, 13.6)
ax.plot([-1.7, 21.6], [-0.97, 11.1], color='#222222', lw=0.9, zorder=2)
ax.scatter(c_green_x, c_green_y, s=60, color=GREEN, edgecolor='#777777', linewidth=0.6, alpha=0.95, zorder=3)
ax.scatter(c_orange_x, c_orange_y, s=60, color=ORANGE, edgecolor='#777777', linewidth=0.6, zorder=3)
ax.spines['top'].set_visible(False)
ax.spines['right'].set_visible(False)
ax.spines['left'].set_color(SPINE)
ax.spines['left'].set_linewidth(1.2)
ax.spines['left'].set_bounds(-3.9, 10.7)
ax.spines['bottom'].set_color('#444444')
ax.set_xticks([0, 5, 10, 15, 20])
ax.set_xticks([-5, 2.5, 7.5, 12.5, 17.5], minor=True)
ax.set_yticks([0, 5, 10])
ax.tick_params(length=2.5, labelsize=7, colors=TXT, pad=1.5, width=0.6)
ax.tick_params(which='minor', length=1.5, width=0.6)
lead(60, 191, 60, 201, color=SPINE, lw=1.0)
lead(56, 208, 63, 201, color='#555555', lw=0.7)
lead(58, 206, 65, 199, color='#555555', lw=0.7)
label(26, 267, 'Differential R level, disease vs.', rotation=90, size=7.3)
label(38, 265, 'controls (t test statistic)', rotation=90, size=7.3)
label(198, 360, 'Differential SI level, disease vs. controls (t test statistic)', size=7.3)

CG = '#3fa843'
CO = '#f2a93b'
for x, y, s, st in [(157, 193, 'LPS', 'normal'), (148, 223, 'P. aeruginosa', 'italic'), (101, 236, 'S. pneumoniae', 'italic'),
		(95, 247, 'A. fumigatus', 'italic'), (169, 248, 'S. aureus', 'italic'), (169, 260, 'moderate', 'italic'),
		(215, 251, 'IAV', 'normal'), (102, 267, 'TB', 'normal'), (154, 277, 'TB', 'normal'), (96, 285, 'C. albicans', 'italic')]:
	label(x, y, s, color=CG, style=st, size=7.5)
for x, y, s in [(318, 232, 'Sepsis'), (318, 245, 'PBMCs'), (269, 249, 'Septic'), (272, 261, 'shock II'), (268, 271, 'blood'),
		(303, 285, 'Sepsis'), (303, 294, 'severe'), (304, 306, 'PBMCs'), (238, 310, 'Septic'), (240, 322, 'shock I'), (237, 333, 'blood'),
		(191, 321, 'Sepsis'), (192, 332, 'monocytes'), (147, 313, 'Sepsis'), (147, 324, 'blood')]:
	label(x, y, s, color=CO, size=7.5)
lead(226, 278, 232, 303)
lead(251, 268, 242, 281)
lead(270, 293, 282, 295)
lead(171, 298, 157, 308)
lead(203, 311, 197, 317)
lead(109, 265, 115, 266)
lead(128, 250, 128, 260)
lead(113, 242, 120, 252)
lead(149, 253, 139, 263)
lead(141, 229, 141, 238)
label(370, 247, 'Cohort:', size=7.5)
dot(358, 260, ORANGE, s=60, edge='#777777')
dot(358, 276, GREEN, s=60, edge='#777777')
label(368, 260, 'Sepsis', ha='left', size=7.5)
label(368, 276, 'Moderate', ha='left', size=7.5)
label(368, 288, 'infection', ha='left', size=7.5)

# ---------- D ---------- #
label(433, 194, 'D', size=11, color='black', fontweight='bold', ha='center')
ax = axpx(459, 185, 584, 307)
ax.set_xlim(-4, 9)
ax.set_ylim(-4, 9)
scat(ax, moderate, '#a9a4a0', s=24, edge='none', lw=0)
scat(ax, sepsis, '#a9a4a0', s=24, edge='none', lw=0)
ax.plot([-4, 9], [-4, 9], color='#222222', lw=0.7, ls='--', zorder=4)
ax.set_xticks([])
ax.set_yticks([])
for s in ax.spines.values():
	s.set_color('#333333')
	s.set_linewidth(0.9)
ax.spines['left'].set_color(SPINE)
ax.spines['left'].set_linewidth(1.2)
ax.set_xlabel('SI level', fontsize=7.5, color=TXT, labelpad=3)
ax.set_ylabel('R level', fontsize=7.5, color=TXT, labelpad=3)
ov.annotate('', xy=(470, 197), xytext=(573, 295), arrowprops=dict(arrowstyle='<|-|>', color='#222222', lw=1.1, mutation_scale=7, shrinkA=0, shrinkB=0))
ov.annotate('', xy=(472, 339), xytext=(571, 339), arrowprops=dict(arrowstyle='<|-|>', color='#222222', lw=1.1, mutation_scale=8, shrinkA=0, shrinkB=0))
for x, y, s in [(466, 191, '1'), (577, 300, '2'), (466, 339, '2'), (576, 339, '1')]:
	ov.scatter([x], [y], s=90, color='#b5ecec', edgecolor='#888888', linewidth=0.5, zorder=5)
	label(x, y, s, size=5.5, zorder=6)
ov.scatter([521.5], [339], s=16, color='#222222', zorder=6)
label(466, 327, 'R<SI')
label(522, 331, 'R=SI')
label(577, 327, 'R>SI')
label(522, 347, '0', size=6.5)
label(466, 352, 'Neg', size=6.8)
label(579, 352, 'Pos', size=6.8)
label(523, 360, 'R/SI-balance score', size=7.3)

label(639, 190, 'Impaired', size=7.5)
label(639, 202, 'balance', size=7.5)
label(709, 190, 'Good', size=7.5)
label(709, 202, 'balance', size=7.5)
ov.annotate('', xy=(607, 208), xytext=(666, 208), arrowprops=dict(arrowstyle='-|>', color='#555555', lw=0.8, mutation_scale=8, shrinkA=0, shrinkB=0))
ov.annotate('', xy=(741, 208), xytext=(683, 208), arrowprops=dict(arrowstyle='-|>', color='#555555', lw=0.8, mutation_scale=8, shrinkA=0, shrinkB=0))
ax = axpx(607.7, 214, 742, 290.7)
ax.set_xlim(0, 100)
ax.set_ylim(0, 114.5)
ax.plot(kde_sepsis_x, kde_sepsis_y, color='#f5a623', lw=1.8)
ax.plot(kde_mod_x, kde_mod_y, color='#3aa33a', lw=1.8)
ax.set_xticks([])
ax.set_yticks([])
for s in ax.spines.values():
	s.set_color('#333333')
	s.set_linewidth(0.8)
label(612, 222, 't-test p <10$^{-91}$', ha='left', size=7)
label(681, 300, 'R/SI balance score', size=7.5)
lead(617, 319, 635, 319, color='#f5a623', lw=1.6)
lead(617, 331, 635, 331, color='#3aa33a', lw=1.6)
label(641, 319, 'Sepsis', ha='left', size=7.5)
label(641, 331, 'Moderate infection', ha='left', size=7.5)

# ---------- E ---------- #
label(5, 391, 'E', size=11, color='black', fontweight='bold', ha='center')
label(28, 393, 'Sepsis, blood', ha='left', size=7)
ax = axpx(20, 399, 135, 485.7)
ax.set_xlim(-0.24, 5.2)
ax.set_ylim(-11.8, 14.1)
ax.axhline(0, color='#777777', lw=0.9, zorder=1)
ax.vlines(e1_x, e1_si_lo, e1_si_hi, color='#888888', lw=0.9, zorder=2)
ax.vlines(e1_x, e1_r_lo, e1_r_hi, color='#111111', lw=0.9, zorder=3)
ax.plot(e1_x, e1_si, color='#888888', lw=1.8, zorder=4)
ax.plot(e1_x, e1_r, color='black', lw=1.8, zorder=5)
ax.set_xticks(e1_x)
ax.set_xticklabels(e1_time)
ax.set_yticks([])
ax.tick_params(length=0, labelsize=6.3, colors=TXT, pad=3)
ax.spines['top'].set_visible(False)
ax.spines['right'].set_visible(False)
ax.spines['left'].set_color('#666666')
ax.spines['bottom'].set_color('#333333')
ax.set_ylabel('Level', fontsize=7, color=TXT, labelpad=1)
ax.set_xlabel('Time (p.s)', fontsize=7, color=TXT, labelpad=3)
label(28, 531, '$\\mathit{S.\\ aureus}$, blood', ha='left', size=7)
ax = axpx(19.3, 535, 135, 621)
ax.set_xlim(-0.73, 12.1)
ax.set_ylim(-2.2, 26.8)
ax.axhline(0, color='#777777', lw=0.9, zorder=1)
ax.vlines(e2_x, e2_si_lo, e2_si_hi, color='#888888', lw=0.9, zorder=2)
ax.vlines(e2_x, e2_r_lo, e2_r_hi, color='#111111', lw=0.9, zorder=3)
ax.plot(e2_x, e2_si, color='#888888', lw=1.8, zorder=4)
ax.plot(e2_x, e2_r, color='black', lw=1.8, zorder=5)
ax.set_xticks(e2_ticks)
ax.set_xticklabels(e2_labels)
ax.set_yticks([])
ax.tick_params(length=0, labelsize=6.3, colors=TXT, pad=3)
ax.spines['top'].set_visible(False)
ax.spines['right'].set_visible(False)
ax.spines['left'].set_color('#333333')
ax.spines['bottom'].set_color('#333333')
ax.set_ylabel('Level', fontsize=7, color=TXT, labelpad=1)
ax.set_xlabel('Time (p.i)', fontsize=7, color=TXT, labelpad=3)
ov.add_patch(plt.Rectangle((17, 649), 9, 8, color='black'))
ov.add_patch(plt.Rectangle((17, 663), 9, 8, color='#888888'))
label(31, 653, 'R level', ha='left', size=7)
label(31, 667, 'SI level', ha='left', size=7)

# ---------- F I ---------- #
label(162, 391, 'F I', size=11, color='black', fontweight='bold', ha='left')
f_panels = [(192, 423, 294, 511, 237, 466, ms1_healthy, uti_1),
	(359, 423, 461, 510, 404, 466, ms1_healthy, uti_2),
	(192, 574, 293, 657, 243, 620, ms2_healthy, uti_3),
	(359, 574, 456, 658, 407, 618, ms2_healthy, uti_4)]
for l, t, r, b, cx, cy, grey, red in f_panels:
	ax = axpx(l, t, r, b)
	ax.set_xlim((l-cx)/10, (r-cx)/10)
	ax.set_ylim((cy-b)/10, (cy-t)/10)
	ax.axhline(0, color='#444444', lw=0.8, zorder=1)
	ax.axvline(0, color='#444444', lw=0.8, zorder=1)
	scat(ax, grey, '#d2d2d2', s=19, edge='#666666', lw=0.4, z=3)
	scat(ax, red, '#c00000', s=19, edge='#4a0000', lw=0.4, z=4)
	ax.set_xticks([])
	ax.set_yticks([])
	ax.spines['top'].set_visible(False)
	ax.spines['right'].set_visible(False)
	ax.spines['left'].set_color('#444444')
	ax.spines['bottom'].set_color(SPINE)
	ax.spines['bottom'].set_linewidth(1.1)

f_heads = [(197, 388, 200, 401, 208, 'Single monocyte (MS1):', 'Healthy,all individuals', 'UTI, Sepsis, indiv. #1', '#e6e6e6'),
	(363, 388, 367, 401, 374, 'Single monocyte (MS1):', 'Healthy, all individuals', 'UTI, Sepsis, indiv. #2', '#b5b5b5'),
	(197, 539, 200, 552, 208, 'Single monocyte (MS2):', 'Healthy, all individuals', 'UTI, no sepsis, indiv. #3', '#b5b5b5'),
	(364, 539, 368, 552, 376, 'Single monocyte (MS2):', 'Healthy, all individuals', 'UTI, no sepsis, indiv. #4', '#b5b5b5')]
for hx, hy, mx, my, tx, head, name1, name2, grey in f_heads:
	label(hx, hy, head, ha='left', size=7)
	dot(mx, my, grey, s=30, edge='#666666')
	label(tx, my, name1, ha='left', size=7)
	dot(mx, my+12.5, '#c62828', s=30, edge='#666666')
	label(tx, my+12.5, name2, ha='left', size=7)
p_txt = [(276, 492, 'R: $\\mathit{p}$ < 10$^{-4}$', 'SI: $\\mathit{p}$ <10$^{-18}$'),
	(443, 492, 'R: $\\mathit{p}$ < 10$^{-9}$', 'SI: $\\mathit{p}$ >0.05'),
	(276, 638, 'R: $\\mathit{p}$ < 10$^{-15}$', 'SI: $\\mathit{p}$ <10$^{-30}$'),
	(443, 638, 'R: $\\mathit{p}$ < 10$^{-7}$', 'SI: $\\mathit{p}$ >0.05')]
for x, y, s1, s2 in p_txt:
	label(x, y, s1, ha='left', size=6.8)
	label(x, y+12.5, s2, ha='left', size=6.8)
for x, y in [(241, 523), (411, 523), (243, 670), (407, 670)]:
	label(x, y, 'SI level', size=7.3)
for x, y in [(237, 515), (404, 515), (243, 662), (407, 662), (188, 467), (354, 466), (188, 619), (355, 618)]:
	label(x, y, '0', size=6, color=TICK)
for x, y in [(175, 464), (344, 464), (175, 608), (344, 608)]:
	label(x, y, 'R  level', rotation=90, size=7.3)

# ---------- F II ---------- #
label(518, 391, 'F II', size=11, color='black', fontweight='bold', ha='left')
label(573, 396, 'SI: $\\mathit{p}$ < 10$^{-25}$', ha='left', size=6.8)
label(573, 409, 'R: $\\mathit{p}$ < 10$^{-37}$', ha='left', size=6.8)
ax = axpx(540, 400, 750, 590)
ax.set_xlim(-6.2, 59.5)
ax.set_ylim(-11.5, 26.9)
ax.patch.set_alpha(0)
ax.axhline(0, xmin=0.1, color='#222222', lw=0.8, ls=(0, (4, 3)), zorder=1)
ax.plot(fit_x, fit_y, color='#222222', lw=0.9, zorder=2)
p = np.array(uti_green)
ax.scatter(p[:, 0], p[:, 1], s=36, color='#0fa14e', edgecolor='#777777', linewidth=0.5, zorder=3)
p = np.array(uti_orange)
ax.scatter(p[:, 0], p[:, 1], s=36, color='#fdb415', edgecolor='#777777', linewidth=0.5, zorder=4)
ax.spines['top'].set_visible(False)
ax.spines['right'].set_visible(False)
ax.spines['left'].set_position(('data', 0))
ax.spines['left'].set_bounds(-10.5, 26)
ax.spines['bottom'].set_position(('data', -7))
ax.spines['bottom'].set_bounds(0, 59.5)
ax.spines['left'].set_color('#555555')
ax.spines['bottom'].set_color('#555555')
ax.set_xticks([10, 20, 30, 40, 50])
ax.set_yticks([0, 10, 20])
ax.tick_params(length=0, labelsize=6.8, colors=TICK, pad=3)
label(520, 496, 'R response, monocytes', rotation=90, size=7.3)
label(532, 495, '(signed log $\\mathit{p}$)', rotation=90, size=7.3)
label(649, 592, 'SI response, monocytes', size=7.3)
label(649, 604, '(signed log $\\mathit{p}$)', size=7.3)
label(565, 621, 'UTI Patient:', ha='left', size=7.3)
dot(569, 634, ORANGE, s=38, edge='#777777')
label(578, 634, 'Sepsis', ha='left', size=7.3)
dot(620, 634, GREEN, s=38, edge='#777777')
label(629, 634, 'Leukocytosis, no sepsis', ha='left', size=7.3)
label(566, 480, '#4', size=7)
lead(566, 485, 561, 491)
label(650, 469, '#3', size=7)
lead(650, 464, 655, 457)
label(624, 529, '#1', size=7)
lead(622, 524, 619, 515)
label(538, 575, '#2', size=7)
lead(543, 576, 553, 580)

fig.savefig('out.png', dpi=100)
